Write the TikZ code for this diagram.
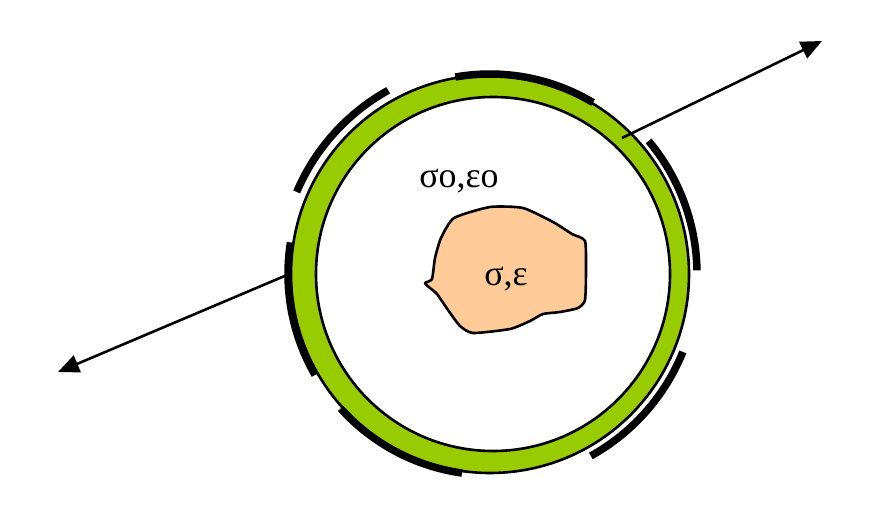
\documentclass[tikz,border=0pt]{standalone}
\usepackage{fontspec}
\setmainfont{Liberation Serif}
\usetikzlibrary{arrows.meta}
\definecolor{ringgreen}{HTML}{99CC00}
\definecolor{blobfill}{HTML}{FFCC99}
\tikzset{
  outline/.style={draw=black, line width=2.6bp},
  band/.style={line width=7.5bp, black},
  axisarrow/.style={line width=2.6bp, -{Triangle[length=21bp,width=18bp]}},
  lbl/.style={font=\fontsize{36}{40}\selectfont, inner sep=0pt}
}
\begin{document}
\begin{tikzpicture}[x=1bp,y=-1bp]
\useasboundingbox (0,0) rectangle (880,515);
\coordinate (c) at (490,274);
\coordinate (ci) at (493,274);
% green ring
\fill[ringgreen, even odd rule] (c) circle[radius=199] (ci) circle[radius=177];
\draw[outline] (c) circle[radius=199];
\draw[outline] (ci) circle[radius=177];
% black arc segments
\draw[band] (c) ++(-119:210) arc[start angle=-119, end angle=-157, radius=210];
\draw[band] (c) ++(-59:200) arc[start angle=-59, end angle=-100, radius=200];
\draw[band] (c) ++(-1:207) arc[start angle=-1, end angle=-40, radius=207];
\draw[band] (c) ++(-171:202) arc[start angle=-171, end angle=-210, radius=202];
\draw[band] (c) ++(-222:201) arc[start angle=-222, end angle=-262, radius=201];
\draw[band] (c) ++(-299:208) arc[start angle=-299, end angle=-338, radius=208];
% arrows
\coordinate (ls) at (287,275);
\coordinate (lt) at (58,372);
\coordinate (rs) at (622,138);
\coordinate (rt) at (822,41);
\draw[axisarrow] (ls) -- (lt);
\draw[axisarrow] (rs) -- (rt);
% blob
\draw[outline, fill=blobfill, line join=round] plot[smooth cycle, tension=0.35] coordinates {
 (432,279) (435,258) (441,238) (454,218) (490,207) (523,208) (553,222) (572,234) (585,241)
 (586,270) (585,300) (578,308) (560,312) (543,314) (530,321) (510,329) (473,333) (460,326)
 (448,310) (437,294) (430,288) (425,283)};
% labels
\node[lbl] (outer) at (459,181) {σo,εo};
\node[lbl] (inner) at (506,279) {σ,ε};
\end{tikzpicture}
\end{document}
